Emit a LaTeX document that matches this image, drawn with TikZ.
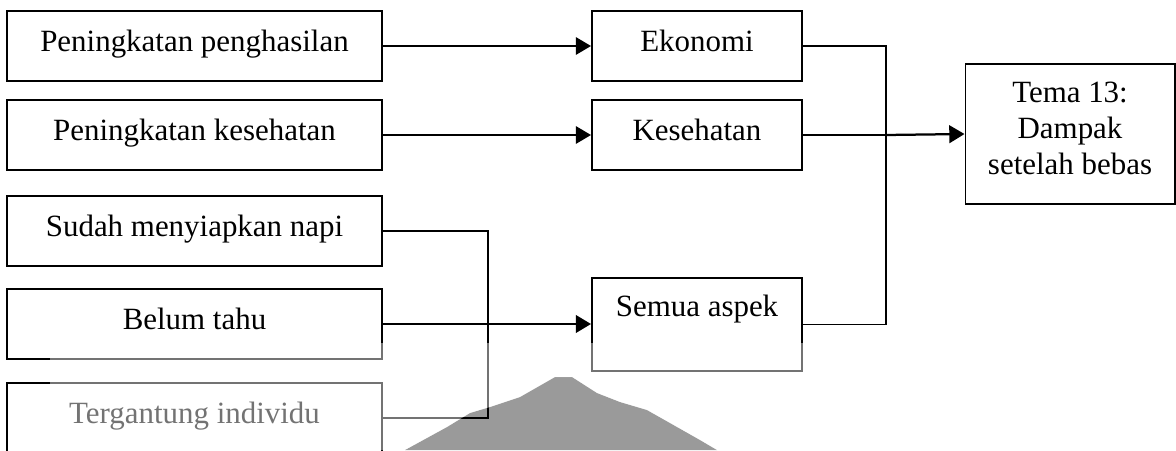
\documentclass[tikz,border=0pt]{standalone}
\usepackage{fontspec}
\setmainfont{Liberation Serif}
\usetikzlibrary{arrows.meta}

\definecolor{mark_gray}{HTML}{9A9A9A}
% outline of the faded logo in the lower middle
\def\markshape{(405,450) -- (447,427) -- (470,413) -- (490,407) -- (520,397) -- (555,377) -- (572,377) -- (597,393) -- (620,402) -- (647,410) -- (670,423) -- (700,440) -- (717,450) -- cycle}

\begin{document}
\begin{tikzpicture}[x=0.025cm, y=-0.025cm,
		font=\fontsize{22pt}{25.6pt}\selectfont,
		item_box/.style={draw=black, line width=1.4pt, inner sep=0pt, minimum width=9.375cm, text height=1cm, text depth=0.75cm, anchor=north},
		aspect_box/.style={draw=black, line width=1.4pt, inner sep=0pt, minimum width=5.25cm, text height=1cm, text depth=0.75cm, anchor=north},
		theme_box/.style={draw=black, line width=1.4pt, inner sep=0pt, minimum width=5.225cm, minimum height=3.5cm, align=center},
		link_edge/.style={line width=1pt},
		arrow_edge/.style={line width=1pt, -{Triangle[length=0.38cm, width=0.44cm]}},
		merge_edge/.style={line width=1.6pt, -{Triangle[length=0.38cm, width=0.44cm]}}
		]
		
		\clip (0,0) rectangle (1176,450);
		
		\fill[mark_gray] \markshape;
		
		% answers
		\node[item_box] (gain) at (194.5,10) {Peningkatan penghasilan};
		\node[item_box] (health) at (194.5,99) {Peningkatan kesehatan};
		\node[item_box] (ready) at (194.5,195) {Sudah menyiapkan napi};
		\node[item_box] (unknown) at (194.5,288) {Belum tahu};
		\node[item_box] (individual) at (194.5,382) {Tergantung individu};
		
		% aspects
		\node[aspect_box] (eco) at (697,10) {Ekonomi};
		\node[aspect_box] (hlth) at (697,99) {Kesehatan};
		\node[aspect_box, text height=0.95cm, text depth=1.375cm] (all) at (697,277) {Semua aspek};
		
		\node[theme_box] (theme) at (1070,134) {Tema 13:\\Dampak\\setelah bebas\strut};
		
		\path (unknown.east) ++(105,0) coordinate (j_left);
		\path (hlth.east) ++(83,0) coordinate (j_right);
		
		\draw[arrow_edge] (gain.east) -- (eco.west);
		\draw[arrow_edge] (health.east) -- (hlth.west);
		
		\draw[link_edge] (ready.east) -| (j_left);
		\draw[link_edge] (individual.east) -| (j_left);
		\draw[link_edge] (unknown.east) -- (j_left);
		\draw[merge_edge] (j_left) -- (j_left -| all.west);
		
		\draw[link_edge] (eco.east) -| (j_right);
		\draw[link_edge] (all.east) -| (j_right);
		\draw[link_edge] (hlth.east) -- (j_right);
		\draw[merge_edge] (j_right) -- (theme.west);
		
		% washed-out band under the logo
		\fill[white, opacity=0.45, even odd rule] (50,343) rectangle (1176,450) \markshape;
	\end{tikzpicture}
\end{document}
